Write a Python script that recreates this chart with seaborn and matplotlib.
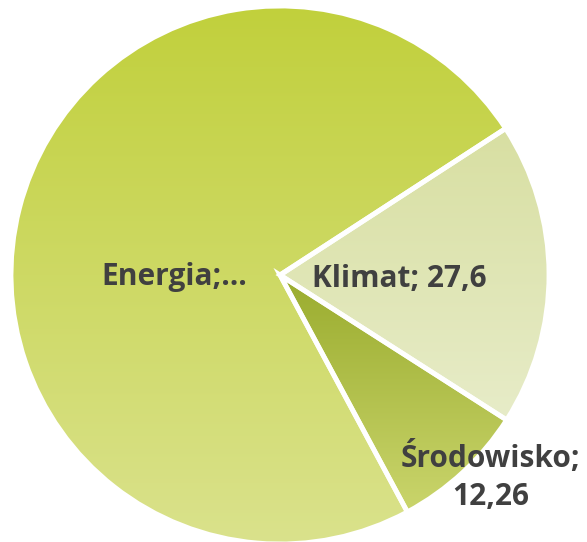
import numpy as np
import matplotlib
matplotlib.use("Agg")
import matplotlib.pyplot as plt
import seaborn as sns
from matplotlib.colors import LinearSegmentedColormap

sns.set_theme(style="white")
plt.rcParams['font.family'] = ['Open Sans', 'DejaVu Sans']

# --- data ---
categories = ["Energia", "Klimat", "Środowisko"]
values = [111.6, 27.6, 12.26]
labels = ["Energia;…", "Klimat; 27,6", "Środowisko;\n12,26"]
# gradient colours per slice (top, bottom)
top_colors = ["#c1d03c", "#d8dfa2", "#9aac2e"]
bottom_colors = ["#dae28c", "#e7ecc8", "#cad56c"]

fig = plt.figure(figsize=(5.87, 5.42), dpi=100)
# centre of pie at (280, 275) px, radius ~269 px
cx, cy, r = 280, 275, 269
W, H = 587, 542
ax = fig.add_axes([(cx - r) / W, (H - cy - r) / H, 2 * r / W, 2 * r / H])

# first slice ends at ~33 deg, drawn clockwise
end_angle = 33.0
start = end_angle + values[0] / sum(values) * 360
wedges, _ = ax.pie(values, startangle=start, counterclock=False, radius=1,
                   wedgeprops=dict(edgecolor="white", linewidth=3.5))

for w, ct, cb in zip(wedges, top_colors, bottom_colors):
    ext = w.get_path().get_extents()
    cmap = LinearSegmentedColormap.from_list("g", [cb, ct])
    grad = np.linspace(0, 1, 256).reshape(-1, 1)
    im = ax.imshow(grad, cmap=cmap, origin="lower", aspect="auto",
                   extent=[ext.x0, ext.x1, ext.y0, ext.y1], zorder=0.5)
    im.set_clip_path(w)
    w.set_facecolor("none")
    w.set_zorder(2)

label_pos = [(-0.392, -0.007), (0.444, -0.015), (0.784, -0.75)]
for lab, (x, y) in zip(labels, label_pos):
    ax.text(x, y, lab, ha="center", va="center", fontsize=21.5,
            fontweight="bold", color="#404040", linespacing=1.35, zorder=3)

ax.set_xlim(-1, 1)
ax.set_ylim(-1, 1)
ax.set_aspect("equal")
ax.axis("off")

fig.savefig("out.png", dpi=100)
